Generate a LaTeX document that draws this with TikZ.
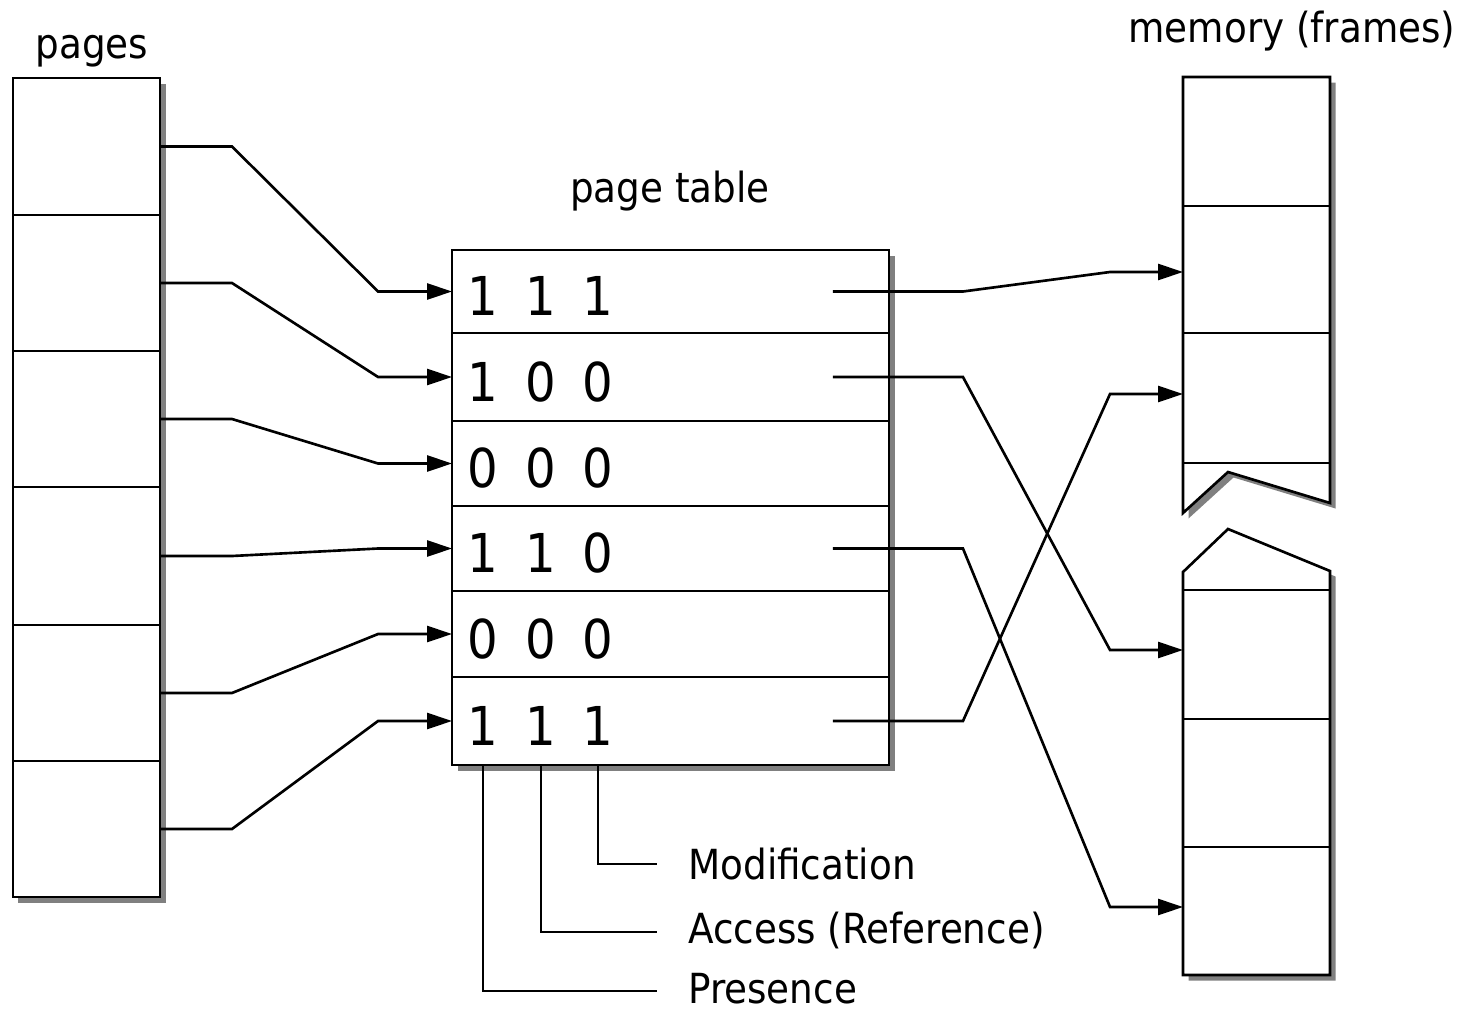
\documentclass[tikz,border=0pt]{standalone}
\usepackage{fontspec}
\setmainfont{DejaVu Sans Condensed}
\usetikzlibrary{arrows.meta,calc,shadows}

\begin{document}
\begin{tikzpicture}[x=0.02cm, y=-0.02cm,
        every node/.style={font=\fontsize{23.6}{28}\selectfont},
        cell/.style={draw=black, line width=1.5pt, inner sep=0pt, outer sep=0pt, minimum width=2.94cm},
        row/.style={cell, minimum width=8.74cm},
        block/.style={draw=black, line width=1.5pt, fill=white, drop shadow={shadow xshift=0.11cm, shadow yshift=-0.11cm, fill=black!50, opacity=1}},
        bit/.style={inner sep=0pt, anchor=base, font=\fontsize{30.5}{36}\selectfont},
        title/.style={inner sep=0pt, anchor=base},
        tag/.style={inner sep=0pt, anchor=base west},
        link/.style={line width=1.5pt},
        arrow/.style={link, -{Triangle[length=5mm, width=3.2mm]}}
    ]
    \useasboundingbox (0,0) rectangle (1466,1011);

    % virtual pages
    \draw[block] (13,78) rectangle (160,897);
    \foreach \i/\a/\b in {1/78/215, 2/215/351, 3/351/487, 4/487/625, 5/625/761, 6/761/897}
        \node[cell, minimum height={(\b-\a)*0.02cm}] (p\i) at (86.5,{(\a+\b)/2}) {};

    % page table with P A M bits
    \draw[block] (452,250) rectangle (889,765);
    \foreach \i/\a/\b/\u/\v/\w in {1/250/333/1/1/1, 2/333/421/1/0/0, 3/421/506/0/0/0, 4/506/591/1/1/0, 5/591/677/0/0/0, 6/677/765/1/1/1} {
        \node[row, minimum height={(\b-\a)*0.02cm}] (r\i) at (670.5,{(\a+\b)/2}) {};
        \node[bit] (b\i-1) at ($(r\i.west)+(31,24)$) {\u};
        \node[bit] (b\i-2) at ($(r\i.west)+(89,24)$) {\v};
        \node[bit] (b\i-3) at ($(r\i.west)+(146,24)$) {\w};
    }

    % physical memory, split in two parts
    \draw[block] (1183,77) -- (1330,77) -- (1330,503) -- (1228,472) -- (1183,513) -- cycle;
    \draw[block] (1183,572) -- (1228,529) -- (1330,571) -- (1330,975) -- (1183,975) -- cycle;
    \foreach \i/\a/\b in {1/77/206, 2/206/333, 3/333/463, 4/590/719, 5/719/847, 6/847/975}
        \node[cell, minimum height={(\b-\a)*0.02cm}] (f\i) at (1256.5,{(\a+\b)/2}) {};

    \node[title] (pages-title) at (92,58) {pages};
    \node[title] (table-title) at (670,202) {page table};
    \node[title] (mem-title) at (1292,42) {memory (frames)};

    % pages -> entries
    \foreach \i in {1,...,6}
        \draw[arrow] (p\i.east) -- ++(72,0) -- ($(r\i.west)+(-74,0)$) -- (r\i.west);

    % entries -> frames
    \foreach \s/\t/\d in {1/2/2.5, 2/4/-4.5, 4/6/-4, 6/3/-4}
        \draw[arrow] ($(r\s.east)+(-56,0)$) -- ++(130,0) -- ($(f\t.west)+(-73,\d)$) -- ($(f\t.west)+(0,\d)$);

    % bit legend
    \node[tag] (mod) at (688,879) {Modification};
    \node[tag] (acc) at (688,943) {Access (Reference)};
    \node[tag] (pres) at (688,1003) {Presence};
    \coordinate (mod-end) at (657,864);
    \coordinate (acc-end) at (657,932);
    \coordinate (pres-end) at (657,991);
    \draw[link] (b6-3 |- r6.south) |- (mod-end);
    \draw[link] (b6-2 |- r6.south) |- (acc-end);
    \draw[link] (b6-1 |- r6.south) |- (pres-end);
\end{tikzpicture}
\end{document}
